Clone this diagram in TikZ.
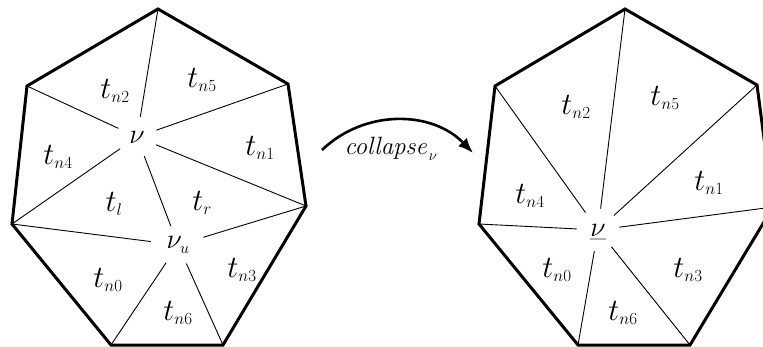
\RequirePackage{fix-cm}
\documentclass[tikz,border=0pt]{standalone}
\usepackage{amsmath}
\usetikzlibrary{arrows.meta,shapes.geometric}
\DeclareMathSizes{31}{31}{17}{13}
\DeclareMathSizes{28}{28}{16}{12}
\DeclareMathSizes{25}{25}{15}{11}

\tikzset{
  rim/.style={line width=3pt},
  spoke/.style={line width=0.9pt},
  lbl/.style={inner sep=0pt,font=\fontsize{31}{33}\selectfont},
  hub/.style={circle,minimum size=40pt,inner sep=0pt,font=\fontsize{28}{30}\selectfont},
  hubu/.style={ellipse,minimum width=54pt,minimum height=38pt,inner sep=0pt,font=\fontsize{28}{30}\selectfont}
}

\begin{document}
\begin{tikzpicture}[x=1pt,y=-1pt,line width=1pt,>={Latex[length=15pt,width=12pt]}]
  \clip (0,0) rectangle (763,347);
  % ===================== ANTES (izquierda) =====================
  % vertices del borde
  \coordinate (aT) at (158,9);   \coordinate (aUL) at (27,86);  \coordinate (aUR) at (288,84);
  \coordinate (aL) at (12,224);  \coordinate (aR) at (306,206);
  \coordinate (aBL) at (111,345); \coordinate (aBR) at (223,345);
  % vertices interiores
  \node[hub] (av) at (137,137){$\nu$};
  \node[hubu] (au) at (178,245){$\nu_u$};
  % aristas interiores
  \draw[spoke] (av)--(aT); \draw[spoke] (av)--(aUL); \draw[spoke] (av)--(aUR);
  \draw[spoke] (av)--(aL); \draw[spoke] (av)--(aR); \draw[spoke] (av)--(au);
  \draw[spoke] (au)--(aL); \draw[spoke] (au)--(aR);
  \draw[spoke] (au)--(aBL); \draw[spoke] (au)--(aBR);
  % borde
  \draw[rim] (aT)--(aUR)--(aR)--(aBR)--(aBL)--(aL)--(aUL)--cycle;
  % triangulos
  \node[lbl] (an2) at (115,91){$t_{n2}$};  \node[lbl] (an5) at (202,80){$t_{n5}$};
  \node[lbl] (an4) at (58,157){$t_{n4}$};  \node[lbl] (an1) at (260,148){$t_{n1}$};
  \node[lbl] (al) at (114,204){$t_{l}$};   \node[lbl] (ar) at (202,203){$t_{r}$};
  \node[lbl] (an0) at (108,280){$t_{n0}$}; \node[lbl] (an3) at (242,270){$t_{n3}$};
  \node[lbl] (an6) at (178,313){$t_{n6}$};
  % ===================== FLECHA =====================
  \coordinate (cs) at (322,150); \coordinate (ce) at (473,153);
  \draw[->,line width=2.6pt] (cs) to[bend left=45] (ce);
  \node[lbl,anchor=base west,font=\fontsize{25}{27}\selectfont] (cl) at (344,155){$\mathit{collapse}_{\nu}$};
  % ===================== DESPUES (derecha) =====================
  \coordinate (bT) at (625,9);   \coordinate (bUL) at (495,86); \coordinate (bUR) at (757,85);
  \coordinate (bL) at (479,224); \coordinate (bR) at (773,207);
  \coordinate (bBL) at (578,345); \coordinate (bBR) at (690,345);
  \node[hub,minimum size=42pt] (bv) at (598,230){$\nu$};
  \draw[gray!60,line width=1.6pt] ([xshift=-8pt,yshift=-9pt]bv.center)--([xshift=8pt,yshift=-9pt]bv.center);
  \draw[spoke] (bv)--(bT); \draw[spoke] (bv)--(bUL); \draw[spoke] (bv)--(bUR);
  \draw[spoke] (bv)--(bL); \draw[spoke] (bv)--(bR);
  \draw[spoke] (bv)--(bBL); \draw[spoke] (bv)--(bBR);
  \draw[rim] (bT)--(bUR)--(bR)--(bBR)--(bBL)--(bL)--(bUL)--cycle;
  \node[lbl] (bn2) at (576,107){$t_{n2}$}; \node[lbl] (bn5) at (665,98){$t_{n5}$};
  \node[lbl] (bn4) at (530,196){$t_{n4}$}; \node[lbl] (bn1) at (709,183){$t_{n1}$};
  \node[lbl] (bn0) at (557,270){$t_{n0}$}; \node[lbl] (bn3) at (688,270){$t_{n3}$};
  \node[lbl] (bn6) at (623,313){$t_{n6}$};
\end{tikzpicture}
\end{document}
